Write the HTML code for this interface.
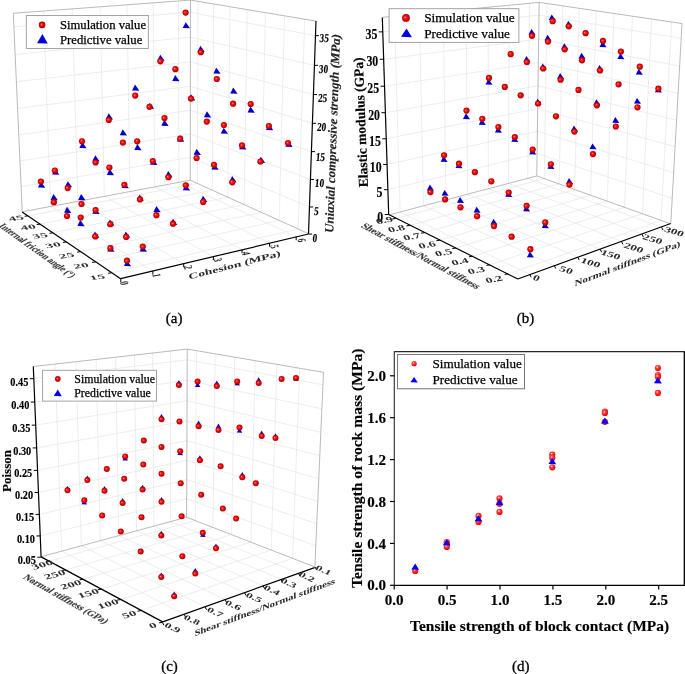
<!DOCTYPE html><html><head><meta charset="utf-8"><style>html,body{margin:0;padding:0;background:#fff;overflow:hidden;width:685px;height:674px;}svg{display:block;filter:blur(0.35px);}</style></head><body><svg width="685" height="674" viewBox="0 0 685 674">
<defs><radialGradient id="sph" cx="0.5" cy="0.5" r="0.5" fx="0.36" fy="0.4"><stop offset="0" stop-color="#ffc0c0"/><stop offset="0.22" stop-color="#ff3030"/><stop offset="0.6" stop-color="#e80000"/><stop offset="0.9" stop-color="#b80000"/><stop offset="1" stop-color="#a00000"/></radialGradient><radialGradient id="sph2" cx="0.4" cy="0.35" r="0.65"><stop offset="0" stop-color="#ffffff"/><stop offset="0.3" stop-color="#ff4040"/><stop offset="1" stop-color="#ee0000"/></radialGradient></defs>
<rect width="685" height="674" fill="#fff"/>
<line x1="50.68" y1="206.45" x2="152.86" y2="271.08" stroke="#e8e8e8" stroke-width="0.8"/>
<line x1="50.68" y1="206.45" x2="43.41" y2="11.04" stroke="#e8e8e8" stroke-width="0.8"/>
<line x1="77.94" y1="201.32" x2="183.7" y2="263.69" stroke="#e8e8e8" stroke-width="0.8"/>
<line x1="77.94" y1="201.32" x2="72.23" y2="8.9" stroke="#e8e8e8" stroke-width="0.8"/>
<line x1="104.35" y1="196.36" x2="213.39" y2="256.57" stroke="#e8e8e8" stroke-width="0.8"/>
<line x1="104.35" y1="196.36" x2="100.11" y2="6.82" stroke="#e8e8e8" stroke-width="0.8"/>
<line x1="129.95" y1="191.54" x2="242" y2="249.72" stroke="#e8e8e8" stroke-width="0.8"/>
<line x1="129.95" y1="191.54" x2="127.09" y2="4.81" stroke="#e8e8e8" stroke-width="0.8"/>
<line x1="154.78" y1="186.88" x2="269.57" y2="243.11" stroke="#e8e8e8" stroke-width="0.8"/>
<line x1="154.78" y1="186.88" x2="153.22" y2="2.87" stroke="#e8e8e8" stroke-width="0.8"/>
<line x1="178.87" y1="182.35" x2="296.18" y2="236.73" stroke="#e8e8e8" stroke-width="0.8"/>
<line x1="178.87" y1="182.35" x2="178.53" y2="0.98" stroke="#e8e8e8" stroke-width="0.8"/>
<line x1="28.09" y1="215.79" x2="197.42" y2="183.46" stroke="#e8e8e8" stroke-width="0.8"/>
<line x1="197.42" y1="183.46" x2="198.01" y2="1.36" stroke="#e8e8e8" stroke-width="0.8"/>
<line x1="40.21" y1="224.07" x2="212.27" y2="190.17" stroke="#e8e8e8" stroke-width="0.8"/>
<line x1="212.27" y1="190.17" x2="213.63" y2="3.98" stroke="#e8e8e8" stroke-width="0.8"/>
<line x1="52.97" y1="232.78" x2="227.81" y2="197.19" stroke="#e8e8e8" stroke-width="0.8"/>
<line x1="227.81" y1="197.19" x2="230.02" y2="6.73" stroke="#e8e8e8" stroke-width="0.8"/>
<line x1="66.43" y1="241.96" x2="244.11" y2="204.56" stroke="#e8e8e8" stroke-width="0.8"/>
<line x1="244.11" y1="204.56" x2="247.25" y2="9.62" stroke="#e8e8e8" stroke-width="0.8"/>
<line x1="80.63" y1="251.66" x2="261.22" y2="212.29" stroke="#e8e8e8" stroke-width="0.8"/>
<line x1="261.22" y1="212.29" x2="265.39" y2="12.66" stroke="#e8e8e8" stroke-width="0.8"/>
<line x1="95.65" y1="261.91" x2="279.2" y2="220.42" stroke="#e8e8e8" stroke-width="0.8"/>
<line x1="279.2" y1="220.42" x2="284.5" y2="15.87" stroke="#e8e8e8" stroke-width="0.8"/>
<line x1="111.55" y1="272.77" x2="298.13" y2="228.97" stroke="#e8e8e8" stroke-width="0.8"/>
<line x1="298.13" y1="228.97" x2="304.68" y2="19.25" stroke="#e8e8e8" stroke-width="0.8"/>
<line x1="21.1" y1="186.73" x2="190.26" y2="157.36" stroke="#e8e8e8" stroke-width="0.8"/>
<line x1="190.26" y1="157.36" x2="309.59" y2="206.98" stroke="#e8e8e8" stroke-width="0.8"/>
<line x1="19.94" y1="161.01" x2="190.29" y2="133.95" stroke="#e8e8e8" stroke-width="0.8"/>
<line x1="190.29" y1="133.95" x2="310.53" y2="179.51" stroke="#e8e8e8" stroke-width="0.8"/>
<line x1="18.77" y1="134.93" x2="190.32" y2="110.25" stroke="#e8e8e8" stroke-width="0.8"/>
<line x1="190.32" y1="110.25" x2="311.48" y2="151.62" stroke="#e8e8e8" stroke-width="0.8"/>
<line x1="17.57" y1="108.48" x2="190.35" y2="86.23" stroke="#e8e8e8" stroke-width="0.8"/>
<line x1="190.35" y1="86.23" x2="312.45" y2="123.3" stroke="#e8e8e8" stroke-width="0.8"/>
<line x1="16.36" y1="81.64" x2="190.38" y2="61.91" stroke="#e8e8e8" stroke-width="0.8"/>
<line x1="190.38" y1="61.91" x2="313.44" y2="94.55" stroke="#e8e8e8" stroke-width="0.8"/>
<line x1="15.14" y1="54.42" x2="190.42" y2="37.26" stroke="#e8e8e8" stroke-width="0.8"/>
<line x1="190.42" y1="37.26" x2="314.44" y2="65.34" stroke="#e8e8e8" stroke-width="0.8"/>
<line x1="13.89" y1="26.8" x2="190.45" y2="12.3" stroke="#e8e8e8" stroke-width="0.8"/>
<line x1="190.45" y1="12.3" x2="315.45" y2="35.67" stroke="#e8e8e8" stroke-width="0.8"/>
<line x1="13.28" y1="13.28" x2="190.46" y2="0.09" stroke="#a8a8a8" stroke-width="0.8"/>
<line x1="190.46" y1="0.09" x2="315.95" y2="21.14" stroke="#a8a8a8" stroke-width="0.8"/>
<line x1="190.23" y1="180.21" x2="190.46" y2="0.09" stroke="#a8a8a8" stroke-width="0.8"/>
<line x1="22.24" y1="211.8" x2="190.23" y2="180.21" stroke="#a8a8a8" stroke-width="0.8"/>
<line x1="190.23" y1="180.21" x2="308.68" y2="233.73" stroke="#a8a8a8" stroke-width="0.8"/>
<line x1="22.24" y1="211.8" x2="13.28" y2="13.28" stroke="#a8a8a8" stroke-width="0.8"/>
<line x1="22.1" y1="211.9" x2="120.6" y2="278.7" stroke="#000" stroke-width="1.2"/>
<line x1="120.6" y1="278.7" x2="308.5" y2="234" stroke="#000" stroke-width="1.2"/>
<line x1="308.5" y1="234" x2="316" y2="21" stroke="#000" stroke-width="1.2"/>
<line x1="120.79" y1="278.77" x2="120.79" y2="282.27" stroke="#000" stroke-width="1.0"/>
<line x1="152.86" y1="271.08" x2="152.86" y2="274.58" stroke="#000" stroke-width="1.0"/>
<line x1="183.7" y1="263.69" x2="183.7" y2="267.19" stroke="#000" stroke-width="1.0"/>
<line x1="213.39" y1="256.57" x2="213.39" y2="260.07" stroke="#000" stroke-width="1.0"/>
<line x1="242" y1="249.72" x2="242" y2="253.22" stroke="#000" stroke-width="1.0"/>
<line x1="269.57" y1="243.11" x2="269.57" y2="246.61" stroke="#000" stroke-width="1.0"/>
<line x1="296.18" y1="236.73" x2="296.18" y2="240.23" stroke="#000" stroke-width="1.0"/>
<line x1="28.09" y1="215.79" x2="24.59" y2="216.29" stroke="#000" stroke-width="1.0"/>
<line x1="40.21" y1="224.07" x2="36.71" y2="224.57" stroke="#000" stroke-width="1.0"/>
<line x1="52.97" y1="232.78" x2="49.47" y2="233.28" stroke="#000" stroke-width="1.0"/>
<line x1="66.43" y1="241.96" x2="62.93" y2="242.46" stroke="#000" stroke-width="1.0"/>
<line x1="80.63" y1="251.66" x2="77.13" y2="252.16" stroke="#000" stroke-width="1.0"/>
<line x1="95.65" y1="261.91" x2="92.15" y2="262.41" stroke="#000" stroke-width="1.0"/>
<line x1="111.55" y1="272.77" x2="108.05" y2="273.27" stroke="#000" stroke-width="1.0"/>
<line x1="308.67" y1="234.04" x2="312.17" y2="234.04" stroke="#000" stroke-width="1.0"/>
<line x1="309.59" y1="206.98" x2="313.09" y2="206.98" stroke="#000" stroke-width="1.0"/>
<line x1="310.53" y1="179.51" x2="314.03" y2="179.51" stroke="#000" stroke-width="1.0"/>
<line x1="311.48" y1="151.62" x2="314.98" y2="151.62" stroke="#000" stroke-width="1.0"/>
<line x1="312.45" y1="123.3" x2="315.95" y2="123.3" stroke="#000" stroke-width="1.0"/>
<line x1="313.44" y1="94.55" x2="316.94" y2="94.55" stroke="#000" stroke-width="1.0"/>
<line x1="314.44" y1="65.34" x2="317.94" y2="65.34" stroke="#000" stroke-width="1.0"/>
<line x1="315.45" y1="35.67" x2="318.95" y2="35.67" stroke="#000" stroke-width="1.0"/>
<text x="0" y="3.96" font-family="Liberation Serif" font-size="12" font-weight="bold" font-style="normal" text-anchor="middle" textLength="9.2" lengthAdjust="spacingAndGlyphs" transform="translate(324.3 38.2) rotate(0) skewX(-5)" fill="#000" stroke="#000" stroke-width="0.15">35</text>
<text x="0" y="3.96" font-family="Liberation Serif" font-size="12" font-weight="bold" font-style="normal" text-anchor="middle" textLength="9.2" lengthAdjust="spacingAndGlyphs" transform="translate(323.5 68.9) rotate(0) skewX(-5)" fill="#000" stroke="#000" stroke-width="0.15">30</text>
<text x="0" y="3.96" font-family="Liberation Serif" font-size="12" font-weight="bold" font-style="normal" text-anchor="middle" textLength="9.2" lengthAdjust="spacingAndGlyphs" transform="translate(322.6 98) rotate(0) skewX(-5)" fill="#000" stroke="#000" stroke-width="0.15">25</text>
<text x="0" y="3.96" font-family="Liberation Serif" font-size="12" font-weight="bold" font-style="normal" text-anchor="middle" textLength="9.2" lengthAdjust="spacingAndGlyphs" transform="translate(321.6 127.5) rotate(0) skewX(-5)" fill="#000" stroke="#000" stroke-width="0.15">20</text>
<text x="0" y="3.96" font-family="Liberation Serif" font-size="12" font-weight="bold" font-style="normal" text-anchor="middle" textLength="9.2" lengthAdjust="spacingAndGlyphs" transform="translate(320.4 156.8) rotate(0) skewX(-5)" fill="#000" stroke="#000" stroke-width="0.15">15</text>
<text x="0" y="3.96" font-family="Liberation Serif" font-size="12" font-weight="bold" font-style="normal" text-anchor="middle" textLength="9.2" lengthAdjust="spacingAndGlyphs" transform="translate(319.5 183.3) rotate(0) skewX(-5)" fill="#000" stroke="#000" stroke-width="0.15">10</text>
<text x="0" y="3.96" font-family="Liberation Serif" font-size="12" font-weight="bold" font-style="normal" text-anchor="middle" textLength="4.6" lengthAdjust="spacingAndGlyphs" transform="translate(316.3 211) rotate(0) skewX(-5)" fill="#000" stroke="#000" stroke-width="0.15">5</text>
<text x="0" y="3.96" font-family="Liberation Serif" font-size="12" font-weight="bold" font-style="normal" text-anchor="middle" textLength="4.6" lengthAdjust="spacingAndGlyphs" transform="translate(315 238) rotate(0) skewX(-5)" fill="#000" stroke="#000" stroke-width="0.15">0</text>
<text x="0" y="4.12" font-family="Liberation Serif" font-size="12.5" font-weight="bold" font-style="italic" text-anchor="middle" textLength="199" lengthAdjust="spacingAndGlyphs" transform="translate(332.5 133.5) rotate(-88)" fill="#222" stroke="#222" stroke-width="0.15">Uniaxial compressive strength (MPa)</text>
<text x="0" y="4.95" font-family="Liberation Serif" font-size="15" font-weight="bold" font-style="normal" text-anchor="middle" transform="matrix(0.9903 -0.1392 0.2350 0.4070 16.1000 218.2000)" fill="#333">45</text>
<text x="0" y="4.95" font-family="Liberation Serif" font-size="15" font-weight="bold" font-style="normal" text-anchor="middle" transform="matrix(0.9903 -0.1392 0.2350 0.4070 28.1000 227.2000)" fill="#333">40</text>
<text x="0" y="4.95" font-family="Liberation Serif" font-size="15" font-weight="bold" font-style="normal" text-anchor="middle" transform="matrix(0.9903 -0.1392 0.2350 0.4070 40.1000 235.8000)" fill="#333">35</text>
<text x="0" y="4.95" font-family="Liberation Serif" font-size="15" font-weight="bold" font-style="normal" text-anchor="middle" transform="matrix(0.9903 -0.1392 0.2350 0.4070 53.0000 245.1000)" fill="#333">30</text>
<text x="0" y="4.95" font-family="Liberation Serif" font-size="15" font-weight="bold" font-style="normal" text-anchor="middle" transform="matrix(0.9903 -0.1392 0.2350 0.4070 66.6000 255.6000)" fill="#333">25</text>
<text x="0" y="4.95" font-family="Liberation Serif" font-size="15" font-weight="bold" font-style="normal" text-anchor="middle" transform="matrix(0.9903 -0.1392 0.2350 0.4070 81.1000 265.7000)" fill="#333">20</text>
<text x="0" y="4.95" font-family="Liberation Serif" font-size="15" font-weight="bold" font-style="normal" text-anchor="middle" transform="matrix(0.9903 -0.1392 0.2350 0.4070 97.2000 277.3000)" fill="#333">15</text>
<text x="0" y="3.63" font-family="Liberation Serif" font-size="11" font-weight="bold" font-style="normal" text-anchor="middle" textLength="89" lengthAdjust="spacingAndGlyphs" transform="translate(37.5 250.5) rotate(35.5) skewX(-25) scale(1 0.85)" fill="#3a3a3a" stroke="#3a3a3a" stroke-width="0.15">Internal friction angle (°)</text>
<text x="0" y="3.96" font-family="Liberation Serif" font-size="12" font-weight="bold" font-style="normal" text-anchor="middle" transform="matrix(0.1553 0.5796 -0.9848 0.1736 124.4000 283.1000)" fill="#222">0</text>
<text x="0" y="3.96" font-family="Liberation Serif" font-size="12" font-weight="bold" font-style="normal" text-anchor="middle" transform="matrix(0.1553 0.5796 -0.9848 0.1736 156.5000 275.3000)" fill="#222">1</text>
<text x="0" y="3.96" font-family="Liberation Serif" font-size="12" font-weight="bold" font-style="normal" text-anchor="middle" transform="matrix(0.1553 0.5796 -0.9848 0.1736 188.0000 267.4000)" fill="#222">2</text>
<text x="0" y="3.96" font-family="Liberation Serif" font-size="12" font-weight="bold" font-style="normal" text-anchor="middle" transform="matrix(0.1553 0.5796 -0.9848 0.1736 217.8000 259.8000)" fill="#222">3</text>
<text x="0" y="3.96" font-family="Liberation Serif" font-size="12" font-weight="bold" font-style="normal" text-anchor="middle" transform="matrix(0.1553 0.5796 -0.9848 0.1736 246.1000 253.4000)" fill="#222">4</text>
<text x="0" y="3.96" font-family="Liberation Serif" font-size="12" font-weight="bold" font-style="normal" text-anchor="middle" transform="matrix(0.1553 0.5796 -0.9848 0.1736 274.7000 246.6000)" fill="#222">5</text>
<text x="0" y="3.96" font-family="Liberation Serif" font-size="12" font-weight="bold" font-style="normal" text-anchor="middle" transform="matrix(0.1553 0.5796 -0.9848 0.1736 301.6000 240.2000)" fill="#222">6</text>
<text x="0" y="4.12" font-family="Liberation Serif" font-size="12.5" font-weight="bold" font-style="normal" text-anchor="middle" textLength="95" lengthAdjust="spacingAndGlyphs" transform="matrix(0.9681 -0.2504 0.1146 0.6500 234.6000 265.0000)" fill="#2a2a2a">Cohesion (MPa)</text>
<text x="174.2" y="323.3" font-family="Liberation Serif" font-size="15" text-anchor="middle" stroke="#000" stroke-width="0.3">(a)</text>
<rect x="26.3" y="15.5" width="122" height="33" fill="#fff" stroke="#9a9a9a" stroke-width="0.9"/>
<circle cx="42.1" cy="24.9" r="3.3" fill="url(#sph)"/>
<path d="M42.4 34.02L47.75 43.51L37.05 43.13Z" fill="#0000e0"/>
<text x="60" y="28.9" font-family="Liberation Serif" font-size="12" stroke="#000" stroke-width="0.25" textLength="86" lengthAdjust="spacingAndGlyphs">Simulation value</text>
<text x="60" y="44" font-family="Liberation Serif" font-size="12" stroke="#000" stroke-width="0.25" textLength="82.3" lengthAdjust="spacingAndGlyphs">Predictive value</text>
<path d="M160.3 54.64L164.65 60.86L157.35 60.62Z" fill="#0000cc"/>
<path d="M175.2 75.04L179.55 81.26L172.25 81.02Z" fill="#0000cc"/>
<path d="M135 84.44L139.35 90.66L132.05 90.42Z" fill="#0000cc"/>
<path d="M149.8 102.64L154.15 108.86L146.85 108.62Z" fill="#0000cc"/>
<path d="M108.7 113.34L113.05 119.56L105.75 119.32Z" fill="#0000cc"/>
<path d="M164.3 119.74L168.65 125.96L161.35 125.72Z" fill="#0000cc"/>
<path d="M122.7 129.24L127.05 135.46L119.75 135.22Z" fill="#0000cc"/>
<path d="M137.3 144.04L141.65 150.26L134.35 150.02Z" fill="#0000cc"/>
<path d="M82.3 141.94L86.65 148.16L79.35 147.92Z" fill="#0000cc"/>
<path d="M95.3 155.34L99.65 161.56L92.35 161.32Z" fill="#0000cc"/>
<path d="M153.1 158.84L157.45 165.06L150.15 164.82Z" fill="#0000cc"/>
<path d="M55 168.54L59.35 174.76L52.05 174.52Z" fill="#0000cc"/>
<path d="M109.7 168.94L114.05 175.16L106.75 174.92Z" fill="#0000cc"/>
<path d="M185.7 22.14L190.05 28.36L182.75 28.12Z" fill="#0000cc"/>
<path d="M200.4 45.84L204.75 52.06L197.45 51.82Z" fill="#0000cc"/>
<path d="M216.3 67.64L220.65 73.86L213.35 73.62Z" fill="#0000cc"/>
<path d="M233.2 87.54L237.55 93.76L230.25 93.52Z" fill="#0000cc"/>
<path d="M191 94.24L195.35 100.46L188.05 100.22Z" fill="#0000cc"/>
<path d="M250.5 106.44L254.85 112.66L247.55 112.42Z" fill="#0000cc"/>
<path d="M206.9 111.34L211.25 117.56L203.95 117.32Z" fill="#0000cc"/>
<path d="M223.7 127.64L228.05 133.86L220.75 133.62Z" fill="#0000cc"/>
<path d="M268.9 124.04L273.25 130.26L265.95 130.02Z" fill="#0000cc"/>
<path d="M180 135.54L184.35 141.76L177.05 141.52Z" fill="#0000cc"/>
<path d="M288.3 140.74L292.65 146.96L285.35 146.72Z" fill="#0000cc"/>
<path d="M242.1 143.24L246.45 149.46L239.15 149.22Z" fill="#0000cc"/>
<path d="M196.6 148.84L200.95 155.06L193.65 154.82Z" fill="#0000cc"/>
<path d="M260.8 156.74L265.15 162.96L257.85 162.72Z" fill="#0000cc"/>
<path d="M214.3 163.64L218.65 169.86L211.35 169.62Z" fill="#0000cc"/>
<path d="M168.2 170.94L172.55 177.16L165.25 176.92Z" fill="#0000cc"/>
<path d="M40.9 181.64L45.25 187.86L37.95 187.62Z" fill="#0000cc"/>
<path d="M67.8 181.14L72.15 187.36L64.85 187.12Z" fill="#0000cc"/>
<path d="M124.5 182.14L128.85 188.36L121.55 188.12Z" fill="#0000cc"/>
<path d="M53.5 193.94L57.85 200.16L50.55 199.92Z" fill="#0000cc"/>
<path d="M81.1 193.94L85.45 200.16L78.15 199.92Z" fill="#0000cc"/>
<path d="M139.6 194.44L143.95 200.66L136.65 200.42Z" fill="#0000cc"/>
<path d="M67 206.74L71.35 212.96L64.05 212.72Z" fill="#0000cc"/>
<path d="M95.3 207.74L99.65 213.96L92.35 213.72Z" fill="#0000cc"/>
<path d="M156.4 205.94L160.75 212.16L153.45 211.92Z" fill="#0000cc"/>
<path d="M80.3 220.04L84.65 226.26L77.35 226.02Z" fill="#0000cc"/>
<path d="M109.9 219.44L114.25 225.66L106.95 225.42Z" fill="#0000cc"/>
<path d="M173 218.74L177.35 224.96L170.05 224.72Z" fill="#0000cc"/>
<path d="M94.9 231.44L99.25 237.66L91.95 237.42Z" fill="#0000cc"/>
<path d="M125.8 231.44L130.15 237.66L122.85 237.42Z" fill="#0000cc"/>
<path d="M110.2 245.54L114.55 251.76L107.25 251.52Z" fill="#0000cc"/>
<path d="M142.6 245.54L146.95 251.76L139.65 251.52Z" fill="#0000cc"/>
<path d="M126.8 260.14L131.15 266.36L123.85 266.12Z" fill="#0000cc"/>
<path d="M185.7 184.24L190.05 190.46L182.75 190.22Z" fill="#0000cc"/>
<path d="M232.2 176.04L236.55 182.26L229.25 182.02Z" fill="#0000cc"/>
<path d="M203 195.74L207.35 201.96L200.05 201.72Z" fill="#0000cc"/>
<circle cx="160.4" cy="61.3" r="3.1" fill="url(#sph)"/>
<circle cx="175.4" cy="69.2" r="3.1" fill="url(#sph)"/>
<circle cx="135.2" cy="95.6" r="3.1" fill="url(#sph)"/>
<circle cx="149.5" cy="106.8" r="3.1" fill="url(#sph)"/>
<circle cx="108.8" cy="120" r="3.1" fill="url(#sph)"/>
<circle cx="164.5" cy="118" r="3.1" fill="url(#sph)"/>
<circle cx="122.9" cy="142.6" r="3.1" fill="url(#sph)"/>
<circle cx="137.2" cy="141.3" r="3.1" fill="url(#sph)"/>
<circle cx="82" cy="141.3" r="3.1" fill="url(#sph)"/>
<circle cx="95.6" cy="162.5" r="3.1" fill="url(#sph)"/>
<circle cx="152.8" cy="161" r="3.1" fill="url(#sph)"/>
<circle cx="54.9" cy="170.5" r="3.1" fill="url(#sph)"/>
<circle cx="109.4" cy="167.5" r="3.1" fill="url(#sph)"/>
<circle cx="185.6" cy="12.6" r="3.1" fill="url(#sph)"/>
<circle cx="200.8" cy="52.2" r="3.1" fill="url(#sph)"/>
<circle cx="216.8" cy="79" r="3.1" fill="url(#sph)"/>
<circle cx="191" cy="98.6" r="3.1" fill="url(#sph)"/>
<circle cx="233.1" cy="103.7" r="3.1" fill="url(#sph)"/>
<circle cx="250.7" cy="104" r="3.1" fill="url(#sph)"/>
<circle cx="206.8" cy="121.6" r="3.1" fill="url(#sph)"/>
<circle cx="223.9" cy="125" r="3.1" fill="url(#sph)"/>
<circle cx="268.9" cy="126" r="3.1" fill="url(#sph)"/>
<circle cx="180.2" cy="138.7" r="3.1" fill="url(#sph)"/>
<circle cx="288" cy="143" r="3.1" fill="url(#sph)"/>
<circle cx="242" cy="145.4" r="3.1" fill="url(#sph)"/>
<circle cx="196.6" cy="158.1" r="3.1" fill="url(#sph)"/>
<circle cx="260.4" cy="161.5" r="3.1" fill="url(#sph)"/>
<circle cx="214" cy="164.8" r="3.1" fill="url(#sph)"/>
<circle cx="168.4" cy="177.2" r="3.1" fill="url(#sph)"/>
<circle cx="40.9" cy="181.5" r="3.1" fill="url(#sph)"/>
<circle cx="67.7" cy="188.1" r="3.1" fill="url(#sph)"/>
<circle cx="124.4" cy="184.8" r="3.1" fill="url(#sph)"/>
<circle cx="53.9" cy="202.2" r="3.1" fill="url(#sph)"/>
<circle cx="81.5" cy="204" r="3.1" fill="url(#sph)"/>
<circle cx="140" cy="199.4" r="3.1" fill="url(#sph)"/>
<circle cx="67" cy="216" r="3.1" fill="url(#sph)"/>
<circle cx="95.6" cy="210.1" r="3.1" fill="url(#sph)"/>
<circle cx="156.4" cy="215.2" r="3.1" fill="url(#sph)"/>
<circle cx="80.7" cy="217.5" r="3.1" fill="url(#sph)"/>
<circle cx="110.4" cy="224.2" r="3.1" fill="url(#sph)"/>
<circle cx="173" cy="223.7" r="3.1" fill="url(#sph)"/>
<circle cx="95.3" cy="236.4" r="3.1" fill="url(#sph)"/>
<circle cx="126.2" cy="236.9" r="3.1" fill="url(#sph)"/>
<circle cx="110.4" cy="248.2" r="3.1" fill="url(#sph)"/>
<circle cx="142.8" cy="246.6" r="3.1" fill="url(#sph)"/>
<circle cx="127" cy="260.7" r="3.1" fill="url(#sph)"/>
<circle cx="185.8" cy="185.3" r="3.1" fill="url(#sph)"/>
<circle cx="232.3" cy="182.3" r="3.1" fill="url(#sph)"/>
<circle cx="203.2" cy="201.9" r="3.1" fill="url(#sph)"/>
<line x1="400.11" y1="212.02" x2="529.69" y2="274.31" stroke="#e8e8e8" stroke-width="0.8"/>
<line x1="400.11" y1="212.02" x2="394.41" y2="16.17" stroke="#e8e8e8" stroke-width="0.8"/>
<line x1="423.5" y1="205.84" x2="554.28" y2="265.52" stroke="#e8e8e8" stroke-width="0.8"/>
<line x1="423.5" y1="205.84" x2="419.34" y2="13.8" stroke="#e8e8e8" stroke-width="0.8"/>
<line x1="445.98" y1="199.9" x2="577.72" y2="257.14" stroke="#e8e8e8" stroke-width="0.8"/>
<line x1="445.98" y1="199.9" x2="443.23" y2="11.52" stroke="#e8e8e8" stroke-width="0.8"/>
<line x1="467.58" y1="194.2" x2="600.1" y2="249.14" stroke="#e8e8e8" stroke-width="0.8"/>
<line x1="467.58" y1="194.2" x2="466.14" y2="9.34" stroke="#e8e8e8" stroke-width="0.8"/>
<line x1="488.37" y1="188.71" x2="621.49" y2="241.49" stroke="#e8e8e8" stroke-width="0.8"/>
<line x1="488.37" y1="188.71" x2="488.14" y2="7.24" stroke="#e8e8e8" stroke-width="0.8"/>
<line x1="508.38" y1="183.42" x2="641.95" y2="234.18" stroke="#e8e8e8" stroke-width="0.8"/>
<line x1="508.38" y1="183.42" x2="509.27" y2="5.23" stroke="#e8e8e8" stroke-width="0.8"/>
<line x1="527.66" y1="178.33" x2="661.54" y2="227.18" stroke="#e8e8e8" stroke-width="0.8"/>
<line x1="527.66" y1="178.33" x2="529.58" y2="3.29" stroke="#e8e8e8" stroke-width="0.8"/>
<line x1="395.81" y1="218.48" x2="544.24" y2="178.6" stroke="#e8e8e8" stroke-width="0.8"/>
<line x1="544.24" y1="178.6" x2="547.07" y2="3.55" stroke="#e8e8e8" stroke-width="0.8"/>
<line x1="409.89" y1="225.42" x2="559.15" y2="183.94" stroke="#e8e8e8" stroke-width="0.8"/>
<line x1="559.15" y1="183.94" x2="562.85" y2="5.89" stroke="#e8e8e8" stroke-width="0.8"/>
<line x1="424.56" y1="232.66" x2="574.59" y2="189.47" stroke="#e8e8e8" stroke-width="0.8"/>
<line x1="574.59" y1="189.47" x2="579.25" y2="8.32" stroke="#e8e8e8" stroke-width="0.8"/>
<line x1="439.86" y1="240.2" x2="590.61" y2="195.2" stroke="#e8e8e8" stroke-width="0.8"/>
<line x1="590.61" y1="195.2" x2="596.28" y2="10.85" stroke="#e8e8e8" stroke-width="0.8"/>
<line x1="455.82" y1="248.07" x2="607.23" y2="201.15" stroke="#e8e8e8" stroke-width="0.8"/>
<line x1="607.23" y1="201.15" x2="613.99" y2="13.47" stroke="#e8e8e8" stroke-width="0.8"/>
<line x1="472.5" y1="256.29" x2="624.48" y2="207.32" stroke="#e8e8e8" stroke-width="0.8"/>
<line x1="624.48" y1="207.32" x2="632.42" y2="16.21" stroke="#e8e8e8" stroke-width="0.8"/>
<line x1="489.93" y1="264.89" x2="642.41" y2="213.74" stroke="#e8e8e8" stroke-width="0.8"/>
<line x1="642.41" y1="213.74" x2="651.61" y2="19.05" stroke="#e8e8e8" stroke-width="0.8"/>
<line x1="508.18" y1="273.89" x2="661.06" y2="220.42" stroke="#e8e8e8" stroke-width="0.8"/>
<line x1="661.06" y1="220.42" x2="671.62" y2="22.02" stroke="#e8e8e8" stroke-width="0.8"/>
<line x1="387.94" y1="189.69" x2="537.08" y2="153.54" stroke="#e8e8e8" stroke-width="0.8"/>
<line x1="537.08" y1="153.54" x2="672.19" y2="198.25" stroke="#e8e8e8" stroke-width="0.8"/>
<line x1="387.12" y1="164.43" x2="537.38" y2="131.26" stroke="#e8e8e8" stroke-width="0.8"/>
<line x1="537.38" y1="131.26" x2="673.63" y2="172.66" stroke="#e8e8e8" stroke-width="0.8"/>
<line x1="386.28" y1="138.76" x2="537.7" y2="108.67" stroke="#e8e8e8" stroke-width="0.8"/>
<line x1="537.7" y1="108.67" x2="675.1" y2="146.66" stroke="#e8e8e8" stroke-width="0.8"/>
<line x1="385.43" y1="112.69" x2="538.01" y2="85.76" stroke="#e8e8e8" stroke-width="0.8"/>
<line x1="538.01" y1="85.76" x2="676.59" y2="120.24" stroke="#e8e8e8" stroke-width="0.8"/>
<line x1="384.56" y1="86.19" x2="538.33" y2="62.53" stroke="#e8e8e8" stroke-width="0.8"/>
<line x1="538.33" y1="62.53" x2="678.1" y2="93.39" stroke="#e8e8e8" stroke-width="0.8"/>
<line x1="383.68" y1="59.26" x2="538.66" y2="38.96" stroke="#e8e8e8" stroke-width="0.8"/>
<line x1="538.66" y1="38.96" x2="679.64" y2="66.09" stroke="#e8e8e8" stroke-width="0.8"/>
<line x1="382.79" y1="31.88" x2="538.99" y2="15.07" stroke="#e8e8e8" stroke-width="0.8"/>
<line x1="538.99" y1="15.07" x2="681.2" y2="38.33" stroke="#e8e8e8" stroke-width="0.8"/>
<line x1="382.31" y1="17.33" x2="539.16" y2="2.38" stroke="#a8a8a8" stroke-width="0.8"/>
<line x1="539.16" y1="2.38" x2="682.04" y2="23.56" stroke="#a8a8a8" stroke-width="0.8"/>
<line x1="536.77" y1="175.93" x2="539.16" y2="2.38" stroke="#a8a8a8" stroke-width="0.8"/>
<line x1="388.77" y1="215.01" x2="536.77" y2="175.93" stroke="#a8a8a8" stroke-width="0.8"/>
<line x1="536.77" y1="175.93" x2="670.75" y2="223.89" stroke="#a8a8a8" stroke-width="0.8"/>
<line x1="670.75" y1="223.89" x2="682.04" y2="23.56" stroke="#a8a8a8" stroke-width="0.8"/>
<line x1="388.7" y1="214.5" x2="517.8" y2="279" stroke="#000" stroke-width="1.2"/>
<line x1="517.8" y1="279" x2="670.7" y2="223.5" stroke="#000" stroke-width="1.2"/>
<line x1="388.7" y1="214.5" x2="382.3" y2="17.5" stroke="#000" stroke-width="1.2"/>
<line x1="529.69" y1="274.31" x2="531.19" y2="277.31" stroke="#000" stroke-width="1.0"/>
<line x1="554.28" y1="265.52" x2="555.78" y2="268.52" stroke="#000" stroke-width="1.0"/>
<line x1="577.72" y1="257.14" x2="579.22" y2="260.14" stroke="#000" stroke-width="1.0"/>
<line x1="600.1" y1="249.14" x2="601.6" y2="252.14" stroke="#000" stroke-width="1.0"/>
<line x1="621.49" y1="241.49" x2="622.99" y2="244.49" stroke="#000" stroke-width="1.0"/>
<line x1="641.95" y1="234.18" x2="643.45" y2="237.18" stroke="#000" stroke-width="1.0"/>
<line x1="661.54" y1="227.18" x2="663.04" y2="230.18" stroke="#000" stroke-width="1.0"/>
<line x1="395.81" y1="218.48" x2="392.31" y2="218.98" stroke="#000" stroke-width="1.0"/>
<line x1="409.89" y1="225.42" x2="406.39" y2="225.92" stroke="#000" stroke-width="1.0"/>
<line x1="424.56" y1="232.66" x2="421.06" y2="233.16" stroke="#000" stroke-width="1.0"/>
<line x1="439.86" y1="240.2" x2="436.36" y2="240.7" stroke="#000" stroke-width="1.0"/>
<line x1="455.82" y1="248.07" x2="452.32" y2="248.57" stroke="#000" stroke-width="1.0"/>
<line x1="472.5" y1="256.29" x2="469" y2="256.79" stroke="#000" stroke-width="1.0"/>
<line x1="489.93" y1="264.89" x2="486.43" y2="265.39" stroke="#000" stroke-width="1.0"/>
<line x1="508.18" y1="273.89" x2="504.68" y2="274.39" stroke="#000" stroke-width="1.0"/>
<line x1="388.76" y1="214.56" x2="384.76" y2="214.56" stroke="#000" stroke-width="1.0"/>
<line x1="387.94" y1="189.69" x2="383.94" y2="189.69" stroke="#000" stroke-width="1.0"/>
<line x1="387.12" y1="164.43" x2="383.12" y2="164.43" stroke="#000" stroke-width="1.0"/>
<line x1="386.28" y1="138.76" x2="382.28" y2="138.76" stroke="#000" stroke-width="1.0"/>
<line x1="385.43" y1="112.69" x2="381.43" y2="112.69" stroke="#000" stroke-width="1.0"/>
<line x1="384.56" y1="86.19" x2="380.56" y2="86.19" stroke="#000" stroke-width="1.0"/>
<line x1="383.68" y1="59.26" x2="379.68" y2="59.26" stroke="#000" stroke-width="1.0"/>
<line x1="382.79" y1="31.88" x2="378.79" y2="31.88" stroke="#000" stroke-width="1.0"/>
<text x="0" y="4.62" font-family="Liberation Serif" font-size="14" font-weight="bold" font-style="normal" text-anchor="middle" textLength="5.9" lengthAdjust="spacingAndGlyphs" transform="translate(380.31 217.16) rotate(0)" fill="#000" stroke="#000" stroke-width="0.15">0</text>
<text x="0" y="4.62" font-family="Liberation Serif" font-size="14" font-weight="bold" font-style="normal" text-anchor="middle" textLength="5.9" lengthAdjust="spacingAndGlyphs" transform="translate(379.49 192.29) rotate(0)" fill="#000" stroke="#000" stroke-width="0.15">5</text>
<text x="0" y="4.62" font-family="Liberation Serif" font-size="14" font-weight="bold" font-style="normal" text-anchor="middle" textLength="11.8" lengthAdjust="spacingAndGlyphs" transform="translate(375.72 167.03) rotate(0)" fill="#000" stroke="#000" stroke-width="0.15">10</text>
<text x="0" y="4.62" font-family="Liberation Serif" font-size="14" font-weight="bold" font-style="normal" text-anchor="middle" textLength="11.8" lengthAdjust="spacingAndGlyphs" transform="translate(374.88 141.36) rotate(0)" fill="#000" stroke="#000" stroke-width="0.15">15</text>
<text x="0" y="4.62" font-family="Liberation Serif" font-size="14" font-weight="bold" font-style="normal" text-anchor="middle" textLength="11.8" lengthAdjust="spacingAndGlyphs" transform="translate(374.03 115.29) rotate(0)" fill="#000" stroke="#000" stroke-width="0.15">20</text>
<text x="0" y="4.62" font-family="Liberation Serif" font-size="14" font-weight="bold" font-style="normal" text-anchor="middle" textLength="11.8" lengthAdjust="spacingAndGlyphs" transform="translate(373.16 88.79) rotate(0)" fill="#000" stroke="#000" stroke-width="0.15">25</text>
<text x="0" y="4.62" font-family="Liberation Serif" font-size="14" font-weight="bold" font-style="normal" text-anchor="middle" textLength="11.8" lengthAdjust="spacingAndGlyphs" transform="translate(372.28 61.86) rotate(0)" fill="#000" stroke="#000" stroke-width="0.15">30</text>
<text x="0" y="4.62" font-family="Liberation Serif" font-size="14" font-weight="bold" font-style="normal" text-anchor="middle" textLength="11.8" lengthAdjust="spacingAndGlyphs" transform="translate(371.39 34.48) rotate(0)" fill="#000" stroke="#000" stroke-width="0.15">35</text>
<text x="0" y="4.49" font-family="Liberation Serif" font-size="13.6" font-weight="bold" font-style="normal" text-anchor="middle" textLength="130" lengthAdjust="spacingAndGlyphs" transform="translate(360.9 122.3) rotate(-92.4)" fill="#000" stroke="#000" stroke-width="0.15">Elastic modulus (GPa)</text>
<text x="0" y="4.46" font-family="Liberation Serif" font-size="13.5" font-weight="bold" font-style="normal" text-anchor="middle" transform="matrix(0.9848 -0.1736 0.2911 0.5474 384.4000 220.3000)" fill="#2e2e2e">0.9</text>
<text x="0" y="4.46" font-family="Liberation Serif" font-size="13.5" font-weight="bold" font-style="normal" text-anchor="middle" transform="matrix(0.9848 -0.1736 0.2911 0.5474 396.4000 228.6000)" fill="#2e2e2e">0.8</text>
<text x="0" y="4.46" font-family="Liberation Serif" font-size="13.5" font-weight="bold" font-style="normal" text-anchor="middle" transform="matrix(0.9848 -0.1736 0.2911 0.5474 411.7000 236.7000)" fill="#2e2e2e">0.7</text>
<text x="0" y="4.46" font-family="Liberation Serif" font-size="13.5" font-weight="bold" font-style="normal" text-anchor="middle" transform="matrix(0.9848 -0.1736 0.2911 0.5474 427.1000 244.9000)" fill="#2e2e2e">0.6</text>
<text x="0" y="4.46" font-family="Liberation Serif" font-size="13.5" font-weight="bold" font-style="normal" text-anchor="middle" transform="matrix(0.9848 -0.1736 0.2911 0.5474 443.5000 252.7000)" fill="#2e2e2e">0.5</text>
<text x="0" y="4.46" font-family="Liberation Serif" font-size="13.5" font-weight="bold" font-style="normal" text-anchor="middle" transform="matrix(0.9848 -0.1736 0.2911 0.5474 459.9000 261.5000)" fill="#2e2e2e">0.4</text>
<text x="0" y="4.46" font-family="Liberation Serif" font-size="13.5" font-weight="bold" font-style="normal" text-anchor="middle" transform="matrix(0.9848 -0.1736 0.2911 0.5474 476.3000 270.3000)" fill="#2e2e2e">0.3</text>
<text x="0" y="4.46" font-family="Liberation Serif" font-size="13.5" font-weight="bold" font-style="normal" text-anchor="middle" transform="matrix(0.9848 -0.1736 0.2911 0.5474 493.9000 279.4000)" fill="#2e2e2e">0.2</text>
<text x="0" y="3.63" font-family="Liberation Serif" font-size="11" font-weight="bold" font-style="normal" text-anchor="middle" textLength="132" lengthAdjust="spacingAndGlyphs" transform="translate(421 256) rotate(28.3) skewX(-25) scale(1 0.85)" fill="#3a3a3a" stroke="#3a3a3a" stroke-width="0.15">Shear stiffness/Normal stiffness</text>
<text x="0" y="4.62" font-family="Liberation Serif" font-size="14" font-weight="bold" font-style="normal" text-anchor="middle" transform="matrix(0.9085 0.2778 -0.2817 0.5298 536.5000 278.0000)" fill="#2e2e2e">0</text>
<text x="0" y="4.62" font-family="Liberation Serif" font-size="14" font-weight="bold" font-style="normal" text-anchor="middle" transform="matrix(0.9085 0.2778 -0.2817 0.5298 566.2000 270.0000)" fill="#2e2e2e">50</text>
<text x="0" y="4.62" font-family="Liberation Serif" font-size="14" font-weight="bold" font-style="normal" text-anchor="middle" transform="matrix(0.9085 0.2778 -0.2817 0.5298 590.5000 262.7000)" fill="#2e2e2e">100</text>
<text x="0" y="4.62" font-family="Liberation Serif" font-size="14" font-weight="bold" font-style="normal" text-anchor="middle" transform="matrix(0.9085 0.2778 -0.2817 0.5298 610.7000 254.6000)" fill="#2e2e2e">150</text>
<text x="0" y="4.62" font-family="Liberation Serif" font-size="14" font-weight="bold" font-style="normal" text-anchor="middle" transform="matrix(0.9085 0.2778 -0.2817 0.5298 633.7000 247.8000)" fill="#2e2e2e">200</text>
<text x="0" y="4.62" font-family="Liberation Serif" font-size="14" font-weight="bold" font-style="normal" text-anchor="middle" transform="matrix(0.9085 0.2778 -0.2817 0.5298 652.6000 239.2000)" fill="#2e2e2e">250</text>
<text x="0" y="4.62" font-family="Liberation Serif" font-size="14" font-weight="bold" font-style="normal" text-anchor="middle" transform="matrix(0.9085 0.2778 -0.2817 0.5298 674.2000 231.6000)" fill="#2e2e2e">300</text>
<text x="0" y="3.96" font-family="Liberation Serif" font-size="12" font-weight="bold" font-style="normal" text-anchor="middle" textLength="113" lengthAdjust="spacingAndGlyphs" transform="matrix(0.9354 -0.3535 0.0244 0.6996 627.5000 263.5000)" fill="#262626">Normal stiffness (GPa)</text>
<text x="525.5" y="323.1" font-family="Liberation Serif" font-size="15" text-anchor="middle" stroke="#000" stroke-width="0.3">(b)</text>
<rect x="389.1" y="8.7" width="129.8" height="33.7" fill="#fff" stroke="#9a9a9a" stroke-width="0.9"/>
<circle cx="406" cy="17.9" r="3.9" fill="url(#sph)"/>
<path d="M406.5 28.5L412 37.17L401 36.83Z" fill="#0000e0"/>
<text x="424.2" y="21.8" font-family="Liberation Serif" font-size="13.3" stroke="#000" stroke-width="0.25" textLength="90.5" lengthAdjust="spacingAndGlyphs">Simulation value</text>
<text x="424.2" y="37.7" font-family="Liberation Serif" font-size="13.3" stroke="#000" stroke-width="0.25" textLength="85.8" lengthAdjust="spacingAndGlyphs">Predictive value</text>
<path d="M488.5 78.82L492.5 84.74L485.5 84.5Z" fill="#0000cc"/>
<path d="M466 113.32L470 119.24L463 119Z" fill="#0000cc"/>
<path d="M481.8 119.12L485.8 125.04L478.8 124.8Z" fill="#0000cc"/>
<path d="M497.9 126.82L501.9 132.74L494.9 132.5Z" fill="#0000cc"/>
<path d="M514.3 136.02L518.3 141.94L511.3 141.7Z" fill="#0000cc"/>
<path d="M443.6 156.12L447.6 162.04L440.6 161.8Z" fill="#0000cc"/>
<path d="M458.5 162.22L462.5 168.14L455.5 167.9Z" fill="#0000cc"/>
<path d="M551.7 14.42L555.7 20.34L548.7 20.1Z" fill="#0000cc"/>
<path d="M568.3 20.82L572.3 26.74L565.3 26.5Z" fill="#0000cc"/>
<path d="M602.5 41.22L606.5 47.14L599.5 46.9Z" fill="#0000cc"/>
<path d="M620.4 53.22L624.4 59.14L617.4 58.9Z" fill="#0000cc"/>
<path d="M638.8 68.82L642.8 74.74L635.8 74.5Z" fill="#0000cc"/>
<path d="M657.9 86.52L661.9 92.44L654.9 92.2Z" fill="#0000cc"/>
<path d="M531.5 28.92L535.5 34.84L528.5 34.6Z" fill="#0000cc"/>
<path d="M547.5 34.82L551.5 40.74L544.5 40.5Z" fill="#0000cc"/>
<path d="M564.2 43.32L568.2 49.24L561.2 49Z" fill="#0000cc"/>
<path d="M581.5 52.72L585.5 58.64L578.5 58.4Z" fill="#0000cc"/>
<path d="M599.5 65.02L603.5 70.94L596.5 70.7Z" fill="#0000cc"/>
<path d="M526.4 56.02L530.4 61.94L523.4 61.7Z" fill="#0000cc"/>
<path d="M542.7 63.52L546.7 69.44L539.7 69.2Z" fill="#0000cc"/>
<path d="M560.1 73.12L564.1 79.04L557.1 78.8Z" fill="#0000cc"/>
<path d="M537.6 98.72L541.6 104.64L534.6 104.4Z" fill="#0000cc"/>
<path d="M596.4 99.22L600.4 105.14L593.4 104.9Z" fill="#0000cc"/>
<path d="M637 97.92L641 103.84L634 103.6Z" fill="#0000cc"/>
<path d="M615.3 117.12L619.3 123.04L612.3 122.8Z" fill="#0000cc"/>
<path d="M573.9 125.52L577.9 131.44L570.9 131.2Z" fill="#0000cc"/>
<path d="M532.2 148.52L536.2 154.44L529.2 154.2Z" fill="#0000cc"/>
<path d="M592.5 143.42L596.5 149.34L589.5 149.1Z" fill="#0000cc"/>
<path d="M550.4 163.12L554.4 169.04L547.4 168.8Z" fill="#0000cc"/>
<path d="M508.2 191.12L512.2 197.04L505.2 196.8Z" fill="#0000cc"/>
<path d="M429.9 184.62L433.9 190.54L426.9 190.3Z" fill="#0000cc"/>
<path d="M444.6 189.92L448.6 195.84L441.6 195.6Z" fill="#0000cc"/>
<path d="M460 197.12L464 203.04L457 202.8Z" fill="#0000cc"/>
<path d="M476.6 206.72L480.6 212.64L473.6 212.4Z" fill="#0000cc"/>
<path d="M493.5 218.82L497.5 224.74L490.5 224.5Z" fill="#0000cc"/>
<path d="M569 178.02L573 183.94L566 183.7Z" fill="#0000cc"/>
<path d="M526.1 205.62L530.1 211.54L523.1 211.3Z" fill="#0000cc"/>
<path d="M544.8 222.22L548.8 228.14L541.8 227.9Z" fill="#0000cc"/>
<path d="M529.9 251.62L533.9 257.54L526.9 257.3Z" fill="#0000cc"/>
<circle cx="510.7" cy="54.2" r="3.1" fill="url(#sph)"/>
<circle cx="489" cy="77.9" r="3.1" fill="url(#sph)"/>
<circle cx="504.8" cy="86.9" r="3.1" fill="url(#sph)"/>
<circle cx="466.5" cy="110.6" r="3.1" fill="url(#sph)"/>
<circle cx="482.3" cy="118.8" r="3.1" fill="url(#sph)"/>
<circle cx="498.4" cy="127" r="3.1" fill="url(#sph)"/>
<circle cx="514.8" cy="137" r="3.1" fill="url(#sph)"/>
<circle cx="444.1" cy="155.3" r="3.1" fill="url(#sph)"/>
<circle cx="459" cy="163.7" r="3.1" fill="url(#sph)"/>
<circle cx="474.9" cy="172.2" r="3.1" fill="url(#sph)"/>
<circle cx="552.7" cy="21.2" r="3.1" fill="url(#sph)"/>
<circle cx="568.8" cy="26.3" r="3.1" fill="url(#sph)"/>
<circle cx="585.6" cy="33.2" r="3.1" fill="url(#sph)"/>
<circle cx="603" cy="40.9" r="3.1" fill="url(#sph)"/>
<circle cx="620.9" cy="51.6" r="3.1" fill="url(#sph)"/>
<circle cx="639.8" cy="66.7" r="3.1" fill="url(#sph)"/>
<circle cx="658.4" cy="88.7" r="3.1" fill="url(#sph)"/>
<circle cx="532" cy="35.8" r="3.1" fill="url(#sph)"/>
<circle cx="548" cy="41.6" r="3.1" fill="url(#sph)"/>
<circle cx="564.7" cy="49.3" r="3.1" fill="url(#sph)"/>
<circle cx="582" cy="60.3" r="3.1" fill="url(#sph)"/>
<circle cx="600" cy="70.5" r="3.1" fill="url(#sph)"/>
<circle cx="618.6" cy="84.3" r="3.1" fill="url(#sph)"/>
<circle cx="526.9" cy="62.1" r="3.1" fill="url(#sph)"/>
<circle cx="543.2" cy="68.5" r="3.1" fill="url(#sph)"/>
<circle cx="560.6" cy="79.7" r="3.1" fill="url(#sph)"/>
<circle cx="578.5" cy="89.9" r="3.1" fill="url(#sph)"/>
<circle cx="520.7" cy="95.3" r="3.1" fill="url(#sph)"/>
<circle cx="538.1" cy="103.5" r="3.1" fill="url(#sph)"/>
<circle cx="596.9" cy="105.3" r="3.1" fill="url(#sph)"/>
<circle cx="637.5" cy="107.3" r="3.1" fill="url(#sph)"/>
<circle cx="556" cy="116.3" r="3.1" fill="url(#sph)"/>
<circle cx="615.8" cy="126.5" r="3.1" fill="url(#sph)"/>
<circle cx="574.4" cy="131.6" r="3.1" fill="url(#sph)"/>
<circle cx="532.7" cy="149.5" r="3.1" fill="url(#sph)"/>
<circle cx="593" cy="154.1" r="3.1" fill="url(#sph)"/>
<circle cx="550.9" cy="164.3" r="3.1" fill="url(#sph)"/>
<circle cx="491.3" cy="181.3" r="3.1" fill="url(#sph)"/>
<circle cx="508.7" cy="192.6" r="3.1" fill="url(#sph)"/>
<circle cx="430.4" cy="192.1" r="3.1" fill="url(#sph)"/>
<circle cx="445.1" cy="199.4" r="3.1" fill="url(#sph)"/>
<circle cx="460.5" cy="207.3" r="3.1" fill="url(#sph)"/>
<circle cx="477.1" cy="216.2" r="3.1" fill="url(#sph)"/>
<circle cx="494" cy="226.1" r="3.1" fill="url(#sph)"/>
<circle cx="511.6" cy="236.7" r="3.1" fill="url(#sph)"/>
<circle cx="569.5" cy="184.6" r="3.1" fill="url(#sph)"/>
<circle cx="526.6" cy="205.8" r="3.1" fill="url(#sph)"/>
<circle cx="545.3" cy="222.4" r="3.1" fill="url(#sph)"/>
<circle cx="530.4" cy="249.2" r="3.1" fill="url(#sph)"/>
<line x1="61.65" y1="551.16" x2="184.16" y2="614.36" stroke="#e8e8e8" stroke-width="0.8"/>
<line x1="61.65" y1="551.16" x2="55.01" y2="364.08" stroke="#e8e8e8" stroke-width="0.8"/>
<line x1="81.3" y1="545.83" x2="205.06" y2="606.79" stroke="#e8e8e8" stroke-width="0.8"/>
<line x1="81.3" y1="545.83" x2="75.92" y2="361.71" stroke="#e8e8e8" stroke-width="0.8"/>
<line x1="100.32" y1="540.66" x2="225.15" y2="599.51" stroke="#e8e8e8" stroke-width="0.8"/>
<line x1="100.32" y1="540.66" x2="96.11" y2="359.43" stroke="#e8e8e8" stroke-width="0.8"/>
<line x1="118.72" y1="535.67" x2="244.49" y2="592.51" stroke="#e8e8e8" stroke-width="0.8"/>
<line x1="118.72" y1="535.67" x2="115.61" y2="357.22" stroke="#e8e8e8" stroke-width="0.8"/>
<line x1="136.55" y1="530.83" x2="263.11" y2="585.77" stroke="#e8e8e8" stroke-width="0.8"/>
<line x1="136.55" y1="530.83" x2="134.47" y2="355.08" stroke="#e8e8e8" stroke-width="0.8"/>
<line x1="153.82" y1="526.14" x2="281.05" y2="579.27" stroke="#e8e8e8" stroke-width="0.8"/>
<line x1="153.82" y1="526.14" x2="152.71" y2="353.02" stroke="#e8e8e8" stroke-width="0.8"/>
<line x1="170.56" y1="521.59" x2="298.35" y2="573.01" stroke="#e8e8e8" stroke-width="0.8"/>
<line x1="170.56" y1="521.59" x2="170.36" y2="351.02" stroke="#e8e8e8" stroke-width="0.8"/>
<line x1="49.36" y1="561.04" x2="195.32" y2="520.62" stroke="#e8e8e8" stroke-width="0.8"/>
<line x1="195.32" y1="520.62" x2="196.44" y2="350.67" stroke="#e8e8e8" stroke-width="0.8"/>
<line x1="65.79" y1="569.93" x2="213.01" y2="527.48" stroke="#e8e8e8" stroke-width="0.8"/>
<line x1="213.01" y1="527.48" x2="215.11" y2="353.85" stroke="#e8e8e8" stroke-width="0.8"/>
<line x1="83.08" y1="579.3" x2="231.52" y2="534.67" stroke="#e8e8e8" stroke-width="0.8"/>
<line x1="231.52" y1="534.67" x2="234.7" y2="357.18" stroke="#e8e8e8" stroke-width="0.8"/>
<line x1="101.32" y1="589.17" x2="250.91" y2="542.2" stroke="#e8e8e8" stroke-width="0.8"/>
<line x1="250.91" y1="542.2" x2="255.27" y2="360.68" stroke="#e8e8e8" stroke-width="0.8"/>
<line x1="120.59" y1="599.6" x2="271.24" y2="550.09" stroke="#e8e8e8" stroke-width="0.8"/>
<line x1="271.24" y1="550.09" x2="276.9" y2="364.37" stroke="#e8e8e8" stroke-width="0.8"/>
<line x1="140.97" y1="610.63" x2="292.58" y2="558.38" stroke="#e8e8e8" stroke-width="0.8"/>
<line x1="292.58" y1="558.38" x2="299.68" y2="368.24" stroke="#e8e8e8" stroke-width="0.8"/>
<line x1="40.45" y1="535.94" x2="186.69" y2="498.78" stroke="#e8e8e8" stroke-width="0.8"/>
<line x1="186.69" y1="498.78" x2="315.8" y2="545.82" stroke="#e8e8e8" stroke-width="0.8"/>
<line x1="39.54" y1="514.38" x2="186.76" y2="479.62" stroke="#e8e8e8" stroke-width="0.8"/>
<line x1="186.76" y1="479.62" x2="316.78" y2="523.76" stroke="#e8e8e8" stroke-width="0.8"/>
<line x1="38.62" y1="492.53" x2="186.83" y2="460.24" stroke="#e8e8e8" stroke-width="0.8"/>
<line x1="186.83" y1="460.24" x2="317.77" y2="501.4" stroke="#e8e8e8" stroke-width="0.8"/>
<line x1="37.7" y1="470.38" x2="186.91" y2="440.62" stroke="#e8e8e8" stroke-width="0.8"/>
<line x1="186.91" y1="440.62" x2="318.78" y2="478.72" stroke="#e8e8e8" stroke-width="0.8"/>
<line x1="36.75" y1="447.92" x2="186.99" y2="420.77" stroke="#e8e8e8" stroke-width="0.8"/>
<line x1="186.99" y1="420.77" x2="319.8" y2="455.72" stroke="#e8e8e8" stroke-width="0.8"/>
<line x1="35.8" y1="425.15" x2="187.06" y2="400.68" stroke="#e8e8e8" stroke-width="0.8"/>
<line x1="187.06" y1="400.68" x2="320.84" y2="432.39" stroke="#e8e8e8" stroke-width="0.8"/>
<line x1="34.83" y1="402.06" x2="187.14" y2="380.34" stroke="#e8e8e8" stroke-width="0.8"/>
<line x1="187.14" y1="380.34" x2="321.89" y2="408.73" stroke="#e8e8e8" stroke-width="0.8"/>
<line x1="33.85" y1="378.65" x2="187.22" y2="359.75" stroke="#e8e8e8" stroke-width="0.8"/>
<line x1="187.22" y1="359.75" x2="322.95" y2="384.73" stroke="#e8e8e8" stroke-width="0.8"/>
<line x1="33.34" y1="366.53" x2="187.26" y2="349.1" stroke="#a8a8a8" stroke-width="0.8"/>
<line x1="187.26" y1="349.1" x2="323.51" y2="372.3" stroke="#a8a8a8" stroke-width="0.8"/>
<line x1="186.62" y1="517.23" x2="187.26" y2="349.1" stroke="#a8a8a8" stroke-width="0.8"/>
<line x1="41.31" y1="556.68" x2="186.62" y2="517.23" stroke="#a8a8a8" stroke-width="0.8"/>
<line x1="186.62" y1="517.23" x2="314.85" y2="567.03" stroke="#a8a8a8" stroke-width="0.8"/>
<line x1="314.85" y1="567.03" x2="323.51" y2="372.3" stroke="#a8a8a8" stroke-width="0.8"/>
<line x1="41.1" y1="556.9" x2="162.7" y2="621.9" stroke="#000" stroke-width="1.2"/>
<line x1="162.7" y1="621.9" x2="314.6" y2="567.6" stroke="#000" stroke-width="1.2"/>
<line x1="41.1" y1="556.9" x2="33.3" y2="366.6" stroke="#000" stroke-width="1.2"/>
<line x1="162.4" y1="622.23" x2="163.9" y2="625.23" stroke="#000" stroke-width="1.0"/>
<line x1="184.16" y1="614.36" x2="185.66" y2="617.36" stroke="#000" stroke-width="1.0"/>
<line x1="205.06" y1="606.79" x2="206.56" y2="609.79" stroke="#000" stroke-width="1.0"/>
<line x1="225.15" y1="599.51" x2="226.65" y2="602.51" stroke="#000" stroke-width="1.0"/>
<line x1="244.49" y1="592.51" x2="245.99" y2="595.51" stroke="#000" stroke-width="1.0"/>
<line x1="263.11" y1="585.77" x2="264.61" y2="588.77" stroke="#000" stroke-width="1.0"/>
<line x1="281.05" y1="579.27" x2="282.55" y2="582.27" stroke="#000" stroke-width="1.0"/>
<line x1="298.35" y1="573.01" x2="299.85" y2="576.01" stroke="#000" stroke-width="1.0"/>
<line x1="315.04" y1="566.96" x2="316.54" y2="569.96" stroke="#000" stroke-width="1.0"/>
<line x1="49.36" y1="561.04" x2="45.86" y2="561.54" stroke="#000" stroke-width="1.0"/>
<line x1="65.79" y1="569.93" x2="62.29" y2="570.43" stroke="#000" stroke-width="1.0"/>
<line x1="83.08" y1="579.3" x2="79.58" y2="579.8" stroke="#000" stroke-width="1.0"/>
<line x1="101.32" y1="589.17" x2="97.82" y2="589.67" stroke="#000" stroke-width="1.0"/>
<line x1="120.59" y1="599.6" x2="117.09" y2="600.1" stroke="#000" stroke-width="1.0"/>
<line x1="140.97" y1="610.63" x2="137.47" y2="611.13" stroke="#000" stroke-width="1.0"/>
<line x1="162.56" y1="622.32" x2="159.06" y2="622.82" stroke="#000" stroke-width="1.0"/>
<line x1="41.34" y1="557.21" x2="37.34" y2="557.21" stroke="#000" stroke-width="1.0"/>
<line x1="40.45" y1="535.94" x2="36.45" y2="535.94" stroke="#000" stroke-width="1.0"/>
<line x1="39.54" y1="514.38" x2="35.54" y2="514.38" stroke="#000" stroke-width="1.0"/>
<line x1="38.62" y1="492.53" x2="34.62" y2="492.53" stroke="#000" stroke-width="1.0"/>
<line x1="37.7" y1="470.38" x2="33.7" y2="470.38" stroke="#000" stroke-width="1.0"/>
<line x1="36.75" y1="447.92" x2="32.75" y2="447.92" stroke="#000" stroke-width="1.0"/>
<line x1="35.8" y1="425.15" x2="31.8" y2="425.15" stroke="#000" stroke-width="1.0"/>
<line x1="34.83" y1="402.06" x2="30.83" y2="402.06" stroke="#000" stroke-width="1.0"/>
<line x1="33.85" y1="378.65" x2="29.85" y2="378.65" stroke="#000" stroke-width="1.0"/>
<text x="0" y="3.96" font-family="Liberation Serif" font-size="12" font-weight="bold" font-style="normal" text-anchor="middle" textLength="18" lengthAdjust="spacingAndGlyphs" transform="translate(26.84 560.21) rotate(0)" fill="#000" stroke="#000" stroke-width="0.15">0.05</text>
<text x="0" y="3.96" font-family="Liberation Serif" font-size="12" font-weight="bold" font-style="normal" text-anchor="middle" textLength="18" lengthAdjust="spacingAndGlyphs" transform="translate(25.95 538.94) rotate(0)" fill="#000" stroke="#000" stroke-width="0.15">0.10</text>
<text x="0" y="3.96" font-family="Liberation Serif" font-size="12" font-weight="bold" font-style="normal" text-anchor="middle" textLength="18" lengthAdjust="spacingAndGlyphs" transform="translate(25.04 517.38) rotate(0)" fill="#000" stroke="#000" stroke-width="0.15">0.15</text>
<text x="0" y="3.96" font-family="Liberation Serif" font-size="12" font-weight="bold" font-style="normal" text-anchor="middle" textLength="18" lengthAdjust="spacingAndGlyphs" transform="translate(24.12 495.53) rotate(0)" fill="#000" stroke="#000" stroke-width="0.15">0.20</text>
<text x="0" y="3.96" font-family="Liberation Serif" font-size="12" font-weight="bold" font-style="normal" text-anchor="middle" textLength="18" lengthAdjust="spacingAndGlyphs" transform="translate(23.2 473.38) rotate(0)" fill="#000" stroke="#000" stroke-width="0.15">0.25</text>
<text x="0" y="3.96" font-family="Liberation Serif" font-size="12" font-weight="bold" font-style="normal" text-anchor="middle" textLength="18" lengthAdjust="spacingAndGlyphs" transform="translate(22.25 450.92) rotate(0)" fill="#000" stroke="#000" stroke-width="0.15">0.30</text>
<text x="0" y="3.96" font-family="Liberation Serif" font-size="12" font-weight="bold" font-style="normal" text-anchor="middle" textLength="18" lengthAdjust="spacingAndGlyphs" transform="translate(21.3 428.15) rotate(0)" fill="#000" stroke="#000" stroke-width="0.15">0.35</text>
<text x="0" y="3.96" font-family="Liberation Serif" font-size="12" font-weight="bold" font-style="normal" text-anchor="middle" textLength="18" lengthAdjust="spacingAndGlyphs" transform="translate(20.33 405.06) rotate(0)" fill="#000" stroke="#000" stroke-width="0.15">0.40</text>
<text x="0" y="3.96" font-family="Liberation Serif" font-size="12" font-weight="bold" font-style="normal" text-anchor="middle" textLength="18" lengthAdjust="spacingAndGlyphs" transform="translate(19.35 381.65) rotate(0)" fill="#000" stroke="#000" stroke-width="0.15">0.45</text>
<text x="0" y="4.29" font-family="Liberation Serif" font-size="13" font-weight="bold" font-style="normal" text-anchor="middle" textLength="42" lengthAdjust="spacingAndGlyphs" transform="translate(7.2 471) rotate(-90)" fill="#000" stroke="#000" stroke-width="0.15">Poisson</text>
<text x="0" y="4.62" font-family="Liberation Serif" font-size="14" font-weight="bold" font-style="normal" text-anchor="middle" transform="matrix(0.9613 -0.2756 0.3441 0.4915 42.3000 564.8000)" fill="#2e2e2e">300</text>
<text x="0" y="4.62" font-family="Liberation Serif" font-size="14" font-weight="bold" font-style="normal" text-anchor="middle" transform="matrix(0.9613 -0.2756 0.3441 0.4915 54.7000 574.7000)" fill="#2e2e2e">250</text>
<text x="0" y="4.62" font-family="Liberation Serif" font-size="14" font-weight="bold" font-style="normal" text-anchor="middle" transform="matrix(0.9613 -0.2756 0.3441 0.4915 70.9000 584.7000)" fill="#2e2e2e">200</text>
<text x="0" y="4.62" font-family="Liberation Serif" font-size="14" font-weight="bold" font-style="normal" text-anchor="middle" transform="matrix(0.9613 -0.2756 0.3441 0.4915 88.3000 593.4000)" fill="#2e2e2e">150</text>
<text x="0" y="4.62" font-family="Liberation Serif" font-size="14" font-weight="bold" font-style="normal" text-anchor="middle" transform="matrix(0.9613 -0.2756 0.3441 0.4915 108.1000 604.0000)" fill="#2e2e2e">100</text>
<text x="0" y="4.62" font-family="Liberation Serif" font-size="14" font-weight="bold" font-style="normal" text-anchor="middle" transform="matrix(0.9613 -0.2756 0.3441 0.4915 129.2000 614.5000)" fill="#2e2e2e">50</text>
<text x="0" y="4.62" font-family="Liberation Serif" font-size="14" font-weight="bold" font-style="normal" text-anchor="middle" transform="matrix(0.9613 -0.2756 0.3441 0.4915 152.8000 625.6000)" fill="#2e2e2e">0</text>
<text x="0" y="3.63" font-family="Liberation Serif" font-size="11" font-weight="bold" font-style="normal" text-anchor="middle" textLength="94" lengthAdjust="spacingAndGlyphs" transform="translate(66 599) rotate(29.3) skewX(-25) scale(1 0.85)" fill="#3a3a3a" stroke="#3a3a3a" stroke-width="0.15">Normal stiffness (GPa)</text>
<text x="0" y="4.29" font-family="Liberation Serif" font-size="13" font-weight="bold" font-style="normal" text-anchor="middle" transform="matrix(0.9135 0.4067 -0.3441 0.4915 172.6000 627.8000)" fill="#2e2e2e">0.9</text>
<text x="0" y="4.29" font-family="Liberation Serif" font-size="13" font-weight="bold" font-style="normal" text-anchor="middle" transform="matrix(0.9135 0.4067 -0.3441 0.4915 192.0000 620.0000)" fill="#2e2e2e">0.8</text>
<text x="0" y="4.29" font-family="Liberation Serif" font-size="13" font-weight="bold" font-style="normal" text-anchor="middle" transform="matrix(0.9135 0.4067 -0.3441 0.4915 215.2000 612.3000)" fill="#2e2e2e">0.7</text>
<text x="0" y="4.29" font-family="Liberation Serif" font-size="13" font-weight="bold" font-style="normal" text-anchor="middle" transform="matrix(0.9135 0.4067 -0.3441 0.4915 233.2000 605.3000)" fill="#2e2e2e">0.6</text>
<text x="0" y="4.29" font-family="Liberation Serif" font-size="13" font-weight="bold" font-style="normal" text-anchor="middle" transform="matrix(0.9135 0.4067 -0.3441 0.4915 253.9000 597.6000)" fill="#2e2e2e">0.5</text>
<text x="0" y="4.29" font-family="Liberation Serif" font-size="13" font-weight="bold" font-style="normal" text-anchor="middle" transform="matrix(0.9135 0.4067 -0.3441 0.4915 272.0000 590.3000)" fill="#2e2e2e">0.4</text>
<text x="0" y="4.29" font-family="Liberation Serif" font-size="13" font-weight="bold" font-style="normal" text-anchor="middle" transform="matrix(0.9135 0.4067 -0.3441 0.4915 288.7000 583.1000)" fill="#2e2e2e">0.3</text>
<text x="0" y="4.29" font-family="Liberation Serif" font-size="13" font-weight="bold" font-style="normal" text-anchor="middle" transform="matrix(0.9135 0.4067 -0.3441 0.4915 306.8000 576.9000)" fill="#2e2e2e">0.2</text>
<text x="0" y="4.29" font-family="Liberation Serif" font-size="13" font-weight="bold" font-style="normal" text-anchor="middle" transform="matrix(0.9135 0.4067 -0.3441 0.4915 323.6000 570.2000)" fill="#2e2e2e">0.1</text>
<text x="0" y="3.96" font-family="Liberation Serif" font-size="12" font-weight="bold" font-style="normal" text-anchor="middle" textLength="150" lengthAdjust="spacingAndGlyphs" transform="matrix(0.9361 -0.3518 0.0244 0.6996 264.8000 607.0000)" fill="#262626">Shear stiffness/Normal stiffness</text>
<text x="169.5" y="671.1" font-family="Liberation Serif" font-size="15" text-anchor="middle" stroke="#000" stroke-width="0.3">(c)</text>
<rect x="42.6" y="370.3" width="113.9" height="30.8" fill="#fff" stroke="#9a9a9a" stroke-width="0.9"/>
<circle cx="57.8" cy="378.9" r="2.8" fill="url(#sph)"/>
<path d="M57.8 389.6L61.8 396.23L53.8 395.97Z" fill="#0000e0"/>
<text x="74.3" y="382.5" font-family="Liberation Serif" font-size="11.8" stroke="#000" stroke-width="0.25" textLength="80.7" lengthAdjust="spacingAndGlyphs">Simulation value</text>
<text x="74.3" y="396.9" font-family="Liberation Serif" font-size="11.8" stroke="#000" stroke-width="0.25" textLength="76.5" lengthAdjust="spacingAndGlyphs">Predictive value</text>
<path d="M161.5 413.92L164.25 418.82L158.75 418.62Z" fill="#0000e0"/>
<path d="M125.2 455.72L127.95 460.62L122.45 460.42Z" fill="#0000e0"/>
<path d="M87.4 475.42L90.15 480.32L84.65 480.12Z" fill="#0000e0"/>
<path d="M67.5 485.92L70.25 490.82L64.75 490.62Z" fill="#0000e0"/>
<path d="M104.5 485.92L107.25 490.82L101.75 490.62Z" fill="#0000e0"/>
<path d="M142.6 484.72L145.35 489.62L139.85 489.42Z" fill="#0000e0"/>
<path d="M84.3 499.62L87.05 504.52L81.55 504.32Z" fill="#0000e0"/>
<path d="M122.6 497.92L125.35 502.82L119.85 502.62Z" fill="#0000e0"/>
<path d="M161.5 497.12L164.25 502.02L158.75 501.82Z" fill="#0000e0"/>
<path d="M178.9 380.12L181.65 385.02L176.15 384.82Z" fill="#0000e0"/>
<path d="M197.6 382.22L200.35 387.12L194.85 386.92Z" fill="#0000e0"/>
<path d="M216.8 380.62L219.55 385.52L214.05 385.32Z" fill="#0000e0"/>
<path d="M237.2 380.62L239.95 385.52L234.45 385.32Z" fill="#0000e0"/>
<path d="M258.7 377.32L261.45 382.22L255.95 382.02Z" fill="#0000e0"/>
<path d="M296 376.02L298.75 380.92L293.25 380.72Z" fill="#0000e0"/>
<path d="M198.6 420.52L201.35 425.42L195.85 425.22Z" fill="#0000e0"/>
<path d="M218.5 423.62L221.25 428.52L215.75 428.32Z" fill="#0000e0"/>
<path d="M239.5 427.92L242.25 432.82L236.75 432.62Z" fill="#0000e0"/>
<path d="M261.7 430.52L264.45 435.42L258.95 435.22Z" fill="#0000e0"/>
<path d="M275.5 433.32L278.25 438.22L272.75 438.02Z" fill="#0000e0"/>
<path d="M180.2 450.42L182.95 455.32L177.45 455.12Z" fill="#0000e0"/>
<path d="M199.9 455.22L202.65 460.12L197.15 459.92Z" fill="#0000e0"/>
<path d="M242.3 472.12L245.05 477.02L239.55 476.82Z" fill="#0000e0"/>
<path d="M161.3 530.72L164.05 535.62L158.55 535.42Z" fill="#0000e0"/>
<path d="M161.3 572.42L164.05 577.32L158.55 577.12Z" fill="#0000e0"/>
<path d="M174.2 591.42L176.95 596.32L171.45 596.12Z" fill="#0000e0"/>
<path d="M202.8 532.12L205.55 537.02L200.05 536.82Z" fill="#0000e0"/>
<path d="M216 543.62L218.75 548.52L213.25 548.32Z" fill="#0000e0"/>
<path d="M195.3 567.92L198.05 572.82L192.55 572.62Z" fill="#0000e0"/>
<circle cx="161.5" cy="419.3" r="3" fill="url(#sph)"/>
<circle cx="143.8" cy="440.5" r="3" fill="url(#sph)"/>
<circle cx="161.5" cy="446.9" r="3" fill="url(#sph)"/>
<circle cx="125.2" cy="456.4" r="3" fill="url(#sph)"/>
<circle cx="106.8" cy="469.1" r="3" fill="url(#sph)"/>
<circle cx="143.3" cy="464.5" r="3" fill="url(#sph)"/>
<circle cx="161.5" cy="473.7" r="3" fill="url(#sph)"/>
<circle cx="87.4" cy="480.1" r="3" fill="url(#sph)"/>
<circle cx="124.2" cy="478.8" r="3" fill="url(#sph)"/>
<circle cx="67.5" cy="490.3" r="3" fill="url(#sph)"/>
<circle cx="104.5" cy="490.8" r="3" fill="url(#sph)"/>
<circle cx="142.6" cy="489.6" r="3" fill="url(#sph)"/>
<circle cx="84.3" cy="500.3" r="3" fill="url(#sph)"/>
<circle cx="122.6" cy="502.9" r="3" fill="url(#sph)"/>
<circle cx="161.5" cy="501.8" r="3" fill="url(#sph)"/>
<circle cx="178.9" cy="385.1" r="3" fill="url(#sph)"/>
<circle cx="197.6" cy="381.5" r="3" fill="url(#sph)"/>
<circle cx="216.8" cy="386.1" r="3" fill="url(#sph)"/>
<circle cx="237.2" cy="381.5" r="3" fill="url(#sph)"/>
<circle cx="258.7" cy="383" r="3" fill="url(#sph)"/>
<circle cx="281.6" cy="378.9" r="3" fill="url(#sph)"/>
<circle cx="296" cy="377.9" r="3" fill="url(#sph)"/>
<circle cx="179.5" cy="421.4" r="3" fill="url(#sph)"/>
<circle cx="198.6" cy="426.2" r="3" fill="url(#sph)"/>
<circle cx="218.5" cy="430" r="3" fill="url(#sph)"/>
<circle cx="239.5" cy="427.5" r="3" fill="url(#sph)"/>
<circle cx="261.7" cy="435.9" r="3" fill="url(#sph)"/>
<circle cx="275.5" cy="438" r="3" fill="url(#sph)"/>
<circle cx="180.2" cy="451.2" r="3" fill="url(#sph)"/>
<circle cx="199.9" cy="460.2" r="3" fill="url(#sph)"/>
<circle cx="220.6" cy="466.3" r="3" fill="url(#sph)"/>
<circle cx="242.3" cy="477.3" r="3" fill="url(#sph)"/>
<circle cx="255.8" cy="483.2" r="3" fill="url(#sph)"/>
<circle cx="180.7" cy="483.2" r="3" fill="url(#sph)"/>
<circle cx="201.2" cy="494.7" r="3" fill="url(#sph)"/>
<circle cx="102.2" cy="515.5" r="3" fill="url(#sph)"/>
<circle cx="141.5" cy="517.3" r="3" fill="url(#sph)"/>
<circle cx="120.8" cy="531.5" r="3" fill="url(#sph)"/>
<circle cx="161.3" cy="535.4" r="3" fill="url(#sph)"/>
<circle cx="140.7" cy="551.6" r="3" fill="url(#sph)"/>
<circle cx="161.3" cy="576.9" r="3" fill="url(#sph)"/>
<circle cx="174.2" cy="596.3" r="3" fill="url(#sph)"/>
<circle cx="181.6" cy="516.3" r="3" fill="url(#sph)"/>
<circle cx="222.9" cy="508.5" r="3" fill="url(#sph)"/>
<circle cx="236.1" cy="518.6" r="3" fill="url(#sph)"/>
<circle cx="202.8" cy="532.8" r="3" fill="url(#sph)"/>
<circle cx="216" cy="548.3" r="3" fill="url(#sph)"/>
<circle cx="182.4" cy="556.3" r="3" fill="url(#sph)"/>
<circle cx="195.3" cy="573.6" r="3" fill="url(#sph)"/>
<line x1="394.3" y1="351.6" x2="684.3" y2="351.6" stroke="#2a2a2a" stroke-width="1.15"/>
<line x1="394.3" y1="351.2" x2="394.3" y2="585.3" stroke="#333" stroke-width="1.15"/>
<line x1="684.3" y1="351.2" x2="684.3" y2="585.9" stroke="#000" stroke-width="1.3"/>
<line x1="393.8" y1="585.3" x2="684.9" y2="585.3" stroke="#000" stroke-width="1.3"/>
<line x1="394.2" y1="585.3" x2="394.2" y2="589.5" stroke="#000" stroke-width="1.2"/>
<text x="0" y="4.95" font-family="Liberation Serif" font-size="15" font-weight="bold" font-style="normal" text-anchor="middle" textLength="18.8" lengthAdjust="spacingAndGlyphs" transform="translate(394.2 600.5) rotate(0)" fill="#000" stroke="#000" stroke-width="0.15">0.0</text>
<line x1="447.1" y1="585.3" x2="447.1" y2="589.5" stroke="#000" stroke-width="1.2"/>
<text x="0" y="4.95" font-family="Liberation Serif" font-size="15" font-weight="bold" font-style="normal" text-anchor="middle" textLength="18.8" lengthAdjust="spacingAndGlyphs" transform="translate(447.1 600.5) rotate(0)" fill="#000" stroke="#000" stroke-width="0.15">0.5</text>
<line x1="500" y1="585.3" x2="500" y2="589.5" stroke="#000" stroke-width="1.2"/>
<text x="0" y="4.95" font-family="Liberation Serif" font-size="15" font-weight="bold" font-style="normal" text-anchor="middle" textLength="18.8" lengthAdjust="spacingAndGlyphs" transform="translate(500 600.5) rotate(0)" fill="#000" stroke="#000" stroke-width="0.15">1.0</text>
<line x1="552.9" y1="585.3" x2="552.9" y2="589.5" stroke="#000" stroke-width="1.2"/>
<text x="0" y="4.95" font-family="Liberation Serif" font-size="15" font-weight="bold" font-style="normal" text-anchor="middle" textLength="18.8" lengthAdjust="spacingAndGlyphs" transform="translate(552.9 600.5) rotate(0)" fill="#000" stroke="#000" stroke-width="0.15">1.5</text>
<line x1="605.8" y1="585.3" x2="605.8" y2="589.5" stroke="#000" stroke-width="1.2"/>
<text x="0" y="4.95" font-family="Liberation Serif" font-size="15" font-weight="bold" font-style="normal" text-anchor="middle" textLength="18.8" lengthAdjust="spacingAndGlyphs" transform="translate(605.8 600.5) rotate(0)" fill="#000" stroke="#000" stroke-width="0.15">2.0</text>
<line x1="658.7" y1="585.3" x2="658.7" y2="589.5" stroke="#000" stroke-width="1.2"/>
<text x="0" y="4.95" font-family="Liberation Serif" font-size="15" font-weight="bold" font-style="normal" text-anchor="middle" textLength="18.8" lengthAdjust="spacingAndGlyphs" transform="translate(658.7 600.5) rotate(0)" fill="#000" stroke="#000" stroke-width="0.15">2.5</text>
<line x1="390" y1="585.3" x2="394.3" y2="585.3" stroke="#000" stroke-width="1.2"/>
<text x="0" y="4.95" font-family="Liberation Serif" font-size="15" font-weight="bold" font-style="normal" text-anchor="middle" textLength="18.8" lengthAdjust="spacingAndGlyphs" transform="translate(376.7 585.5) rotate(0)" fill="#000" stroke="#000" stroke-width="0.15">0.0</text>
<line x1="390" y1="543.4" x2="394.3" y2="543.4" stroke="#000" stroke-width="1.2"/>
<text x="0" y="4.95" font-family="Liberation Serif" font-size="15" font-weight="bold" font-style="normal" text-anchor="middle" textLength="18.8" lengthAdjust="spacingAndGlyphs" transform="translate(376.7 543.6) rotate(0)" fill="#000" stroke="#000" stroke-width="0.15">0.4</text>
<line x1="390" y1="501.5" x2="394.3" y2="501.5" stroke="#000" stroke-width="1.2"/>
<text x="0" y="4.95" font-family="Liberation Serif" font-size="15" font-weight="bold" font-style="normal" text-anchor="middle" textLength="18.8" lengthAdjust="spacingAndGlyphs" transform="translate(376.7 501.7) rotate(0)" fill="#000" stroke="#000" stroke-width="0.15">0.8</text>
<line x1="390" y1="459.6" x2="394.3" y2="459.6" stroke="#000" stroke-width="1.2"/>
<text x="0" y="4.95" font-family="Liberation Serif" font-size="15" font-weight="bold" font-style="normal" text-anchor="middle" textLength="18.8" lengthAdjust="spacingAndGlyphs" transform="translate(376.7 459.8) rotate(0)" fill="#000" stroke="#000" stroke-width="0.15">1.2</text>
<line x1="390" y1="417.7" x2="394.3" y2="417.7" stroke="#000" stroke-width="1.2"/>
<text x="0" y="4.95" font-family="Liberation Serif" font-size="15" font-weight="bold" font-style="normal" text-anchor="middle" textLength="18.8" lengthAdjust="spacingAndGlyphs" transform="translate(376.7 417.9) rotate(0)" fill="#000" stroke="#000" stroke-width="0.15">1.6</text>
<line x1="390" y1="375.8" x2="394.3" y2="375.8" stroke="#000" stroke-width="1.2"/>
<text x="0" y="4.95" font-family="Liberation Serif" font-size="15" font-weight="bold" font-style="normal" text-anchor="middle" textLength="18.8" lengthAdjust="spacingAndGlyphs" transform="translate(376.7 376) rotate(0)" fill="#000" stroke="#000" stroke-width="0.15">2.0</text>
<text x="0" y="5.15" font-family="Liberation Serif" font-size="15.6" font-weight="bold" font-style="normal" text-anchor="middle" textLength="259" lengthAdjust="spacingAndGlyphs" transform="translate(539.6 625.5) rotate(0)" fill="#000" stroke="#000" stroke-width="0.15">Tensile strength of block contact (MPa)</text>
<text x="0" y="5.15" font-family="Liberation Serif" font-size="15.6" font-weight="bold" font-style="normal" text-anchor="middle" textLength="239.5" lengthAdjust="spacingAndGlyphs" transform="translate(356.6 468.2) rotate(-90)" fill="#000" stroke="#000" stroke-width="0.15">Tensile strength of rock mass (MPa)</text>
<text x="520.8" y="671.1" font-family="Liberation Serif" font-size="15" text-anchor="middle" stroke="#000" stroke-width="0.3">(d)</text>
<rect x="397.6" y="354.5" width="126.9" height="34.3" fill="#fff" stroke="#666" stroke-width="0.9"/>
<circle cx="414.1" cy="363.7" r="2.6" fill="url(#sph2)"/>
<path d="M414.1 376.9L417.8 382.51L410.4 382.29Z" fill="#0000ff"/>
<text x="432.5" y="368.4" font-family="Liberation Serif" font-size="13" stroke="#000" stroke-width="0.25" textLength="89.3" lengthAdjust="spacingAndGlyphs">Simulation value</text>
<text x="432.5" y="384.3" font-family="Liberation Serif" font-size="13" stroke="#000" stroke-width="0.25" textLength="85.2" lengthAdjust="spacingAndGlyphs">Predictive value</text>
<circle cx="415.2" cy="570.9" r="3.1" fill="url(#sph2)"/>
<circle cx="446.8" cy="542.2" r="3.1" fill="url(#sph2)"/>
<circle cx="446.8" cy="546.9" r="3.1" fill="url(#sph2)"/>
<circle cx="478.5" cy="515.9" r="3.1" fill="url(#sph2)"/>
<circle cx="478.5" cy="521.9" r="3.1" fill="url(#sph2)"/>
<circle cx="499.5" cy="498.4" r="3.1" fill="url(#sph2)"/>
<circle cx="499.5" cy="503.7" r="3.1" fill="url(#sph2)"/>
<circle cx="499.5" cy="511.9" r="3.1" fill="url(#sph2)"/>
<circle cx="552.3" cy="454.6" r="3.1" fill="url(#sph2)"/>
<circle cx="552.3" cy="457.9" r="3.1" fill="url(#sph2)"/>
<circle cx="552.3" cy="467.3" r="3.1" fill="url(#sph2)"/>
<circle cx="604.9" cy="411.5" r="3.1" fill="url(#sph2)"/>
<circle cx="604.9" cy="413" r="3.1" fill="url(#sph2)"/>
<circle cx="604.9" cy="421.8" r="3.1" fill="url(#sph2)"/>
<circle cx="657.9" cy="368.1" r="3.1" fill="url(#sph2)"/>
<circle cx="657.9" cy="375.1" r="3.1" fill="url(#sph2)"/>
<circle cx="657.9" cy="376.9" r="3.1" fill="url(#sph2)"/>
<circle cx="657.9" cy="392.9" r="3.1" fill="url(#sph2)"/>
<path d="M415.2 563.38L419.1 569.7L411.3 569.46Z" fill="#0000ff"/>
<path d="M446.8 539.18L450.7 545.5L442.9 545.26Z" fill="#0000ff"/>
<path d="M478.5 515.18L482.4 521.5L474.6 521.26Z" fill="#0000ff"/>
<path d="M499.5 498.88L503.4 505.2L495.6 504.96Z" fill="#0000ff"/>
<path d="M552.3 457.88L556.2 464.2L548.4 463.96Z" fill="#0000ff"/>
<path d="M604.9 417.38L608.8 423.7L601 423.46Z" fill="#0000ff"/>
<path d="M657.9 377.08L661.8 383.4L654 383.16Z" fill="#0000ff"/>
</svg></body></html>
